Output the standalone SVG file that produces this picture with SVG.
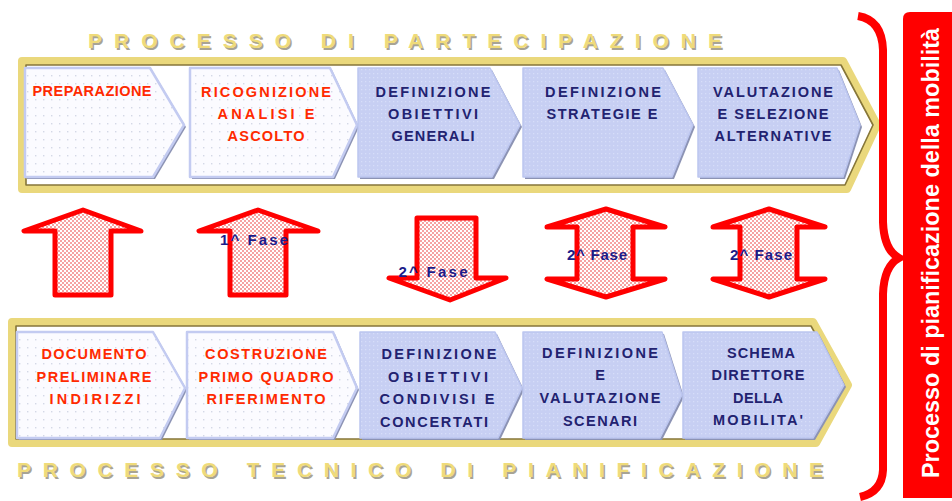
<svg xmlns="http://www.w3.org/2000/svg" width="952" height="501" viewBox="0 0 952 501">
<defs>
<pattern id="dots" width="8" height="8" patternUnits="userSpaceOnUse"><rect width="8" height="8" fill="#fbfbff"/><rect x="3" y="3" width="1.4" height="1.4" fill="#d4d8e6"/></pattern>
<pattern id="blue" width="4" height="4" patternUnits="userSpaceOnUse"><rect width="4" height="4" fill="#c7cff3"/><rect x="1" y="1" width="1.3" height="1.3" fill="#d6ddf9"/></pattern>
<pattern id="check" width="4" height="4" patternUnits="userSpaceOnUse"><rect width="4" height="4" fill="#ffffff"/><rect width="2" height="2" fill="#f6a2a2"/><rect x="2" y="2" width="2" height="2" fill="#f6a2a2"/></pattern>
<style>
.frame{fill:#ffffff;stroke:#ead87c;stroke-width:8;stroke-linejoin:round}
.frameIn{fill:none;stroke:#86763a;stroke-width:1.6;stroke-linejoin:round}
.wbox{fill:url(#dots);stroke:#c3cbf1;stroke-width:2.5;stroke-linejoin:round}
.bbox{fill:url(#blue);stroke:#bcc6f0;stroke-width:1.5;stroke-linejoin:round}
.shadow{fill:#8c93b4}
.title{font-family:"Liberation Sans",Arial,sans-serif;font-weight:bold;font-size:21px;fill:#efdb7a}
.tshadow{font-family:"Liberation Sans",Arial,sans-serif;font-weight:bold;font-size:21px;fill:#a8a494}
.red{font-family:"Liberation Sans",Arial,sans-serif;font-weight:bold;font-size:14.5px;fill:#ff2a00;text-anchor:middle}
.blu{font-family:"Liberation Sans",Arial,sans-serif;font-weight:bold;font-size:14.5px;fill:#222270;text-anchor:middle}
.arrow{fill:url(#check);stroke:#ff0000;stroke-width:5;stroke-linejoin:round}
.fase{font-family:"Liberation Sans",Arial,sans-serif;font-weight:bold;font-size:15px;fill:#1c1c8a;text-anchor:middle}
</style>
</defs>
<rect width="952" height="501" fill="#ffffff"/>

<g id="titles">
<text class="tshadow" x="89.5" y="49.5" textLength="634" lengthAdjust="spacing">PROCESSO DI PARTECIPAZIONE</text>
<text class="title" x="88" y="48" textLength="634" lengthAdjust="spacing">PROCESSO DI PARTECIPAZIONE</text>
<text class="tshadow" x="18.5" y="478.5" textLength="806" lengthAdjust="spacing">PROCESSO TECNICO DI PIANIFICAZIONE</text>
<text class="title" x="17" y="477" textLength="806" lengthAdjust="spacing">PROCESSO TECNICO DI PIANIFICAZIONE</text>
</g>

<g id="frame-top">
<polygon class="frame" points="22,61 843,61 877,125 847,189 22,189"/>
<polygon class="frameIn" points="26,65 841,65 873,125 845,185 26,185"/>
</g>
<g id="frame-bottom">
<polygon class="frame" points="12,322 813,322 848,385 816,443 12,443"/>
<polygon class="frameIn" points="16,326 811,326 844,385 814,439 16,439"/>
</g>

<g id="t1">
<polygon class="shadow" points="27,70 152,70 186,127 155,179 27,179"/>
<polygon class="wbox" points="25,68 150,68 184,125 153,177 25,177"/>
<text class="red" x="92" y="96" textLength="119">PREPARAZIONE</text>
</g>
<g id="t2">
<polygon class="shadow" points="192,70 332,70 359,127 335,179 192,179"/>
<polygon class="wbox" points="190,68 330,68 357,125 333,177 190,177"/>
<text class="red" x="266" y="97" textLength="130">RICOGNIZIONE</text>
<text class="red" x="266" y="119" textLength="97">ANALISI  E</text>
<text class="red" x="266" y="141" textLength="77">ASCOLTO</text>
</g>
<g id="t3">
<polygon class="shadow" points="360,70 492,70 522,127 494,179 360,179"/>
<polygon class="bbox" points="358,68 490,68 520,125 492,177 358,177"/>
<text class="blu" x="433" y="97" textLength="115">DEFINIZIONE</text>
<text class="blu" x="433" y="119" textLength="90">OBIETTIVI</text>
<text class="blu" x="433" y="141" textLength="83">GENERALI</text>
</g>
<g id="t4">
<polygon class="shadow" points="525,70 665,70 695,127 674,179 525,179"/>
<polygon class="bbox" points="523,68 663,68 693,125 672,177 523,177"/>
<text class="blu" x="603" y="97" textLength="116">DEFINIZIONE</text>
<text class="blu" x="602" y="119" textLength="111">STRATEGIE E</text>
</g>
<g id="t5">
<polygon class="shadow" points="700,70 839,70 862,127 845,179 700,179"/>
<polygon class="bbox" points="698,68 837,68 860,125 843,177 698,177"/>
<text class="blu" x="773" y="97" textLength="120">VALUTAZIONE</text>
<text class="blu" x="773" y="119" textLength="111">E SELEZIONE</text>
<text class="blu" x="773" y="141" textLength="117">ALTERNATIVE</text>
</g>

<g id="b1">
<polygon class="shadow" points="19,334 155,334 187,390 162,440 19,440"/>
<polygon class="wbox" points="17,332 153,332 185,388 160,438 17,438"/>
<text class="red" x="94" y="359" textLength="105">DOCUMENTO</text>
<text class="red" x="94" y="382" textLength="115">PRELIMINARE</text>
<text class="red" x="95" y="404" textLength="91">INDIRIZZI</text>
</g>
<g id="b2">
<polygon class="shadow" points="189,334 335,334 359,390 335,440 189,440"/>
<polygon class="wbox" points="187,332 333,332 357,388 333,438 187,438"/>
<text class="red" x="266" y="359" textLength="122">COSTRUZIONE</text>
<text class="red" x="266" y="382" textLength="135">PRIMO QUADRO</text>
<text class="red" x="266" y="404" textLength="119">RIFERIMENTO</text>
</g>
<g id="b3">
<polygon class="shadow" points="362,334 497,334 524,390 500,440 362,440"/>
<polygon class="bbox" points="360,332 495,332 522,388 498,438 360,438"/>
<text class="blu" x="439" y="359" textLength="115">DEFINIZIONE</text>
<text class="blu" x="438" y="382" textLength="100">OBIETTIVI</text>
<text class="blu" x="437" y="404" textLength="115">CONDIVISI E</text>
<text class="blu" x="434" y="427" textLength="108">CONCERTATI</text>
</g>
<g id="b4">
<polygon class="shadow" points="525,334 664,334 684,397 662,440 525,440"/>
<polygon class="bbox" points="523,332 662,332 682,395 660,438 523,438"/>
<text class="blu" x="600" y="358" textLength="116">DEFINIZIONE</text>
<text class="blu" x="600" y="380">E</text>
<text class="blu" x="600" y="403" textLength="121">VALUTAZIONE</text>
<text class="blu" x="600" y="426" textLength="74">SCENARI</text>
</g>
<g id="b5">
<polygon class="shadow" points="685,334 819,334 846,387 815,440 685,440"/>
<polygon class="bbox" points="683,332 817,332 844,385 813,438 683,438"/>
<text class="blu" x="761" y="358" textLength="68">SCHEMA</text>
<text class="blu" x="758" y="380" textLength="93">DIRETTORE</text>
<text class="blu" x="758" y="403" textLength="50">DELLA</text>
<text class="blu" x="758" y="425" textLength="90">MOBILITA'</text>
</g>

<g id="connectors">
<polygon class="arrow" points="83,210 24,231 55,231 55,295 111,295 111,231 141,231"/>
<polygon class="arrow" points="258,210 199,231 230,231 230,295 286,295 286,231 318,231"/>
<polygon class="arrow" points="417,218 476,218 476,278 506,278 450,300 389,278 417,278"/>
<polygon class="arrow" points="606,209 665,227 633,227 633,279 665,279 606,297 547,279 577,279 577,227 547,227"/>
<polygon class="arrow" points="769,209 825,227 797,227 797,279 825,279 769,297 713,279 740,279 740,227 713,227"/>
<text class="fase" x="254" y="245" textLength="68">1^ Fase</text>
<text class="fase" x="433" y="277" textLength="69">2^ Fase</text>
<text class="fase" x="597" y="260" textLength="60">2^ Fase</text>
<text class="fase" x="761" y="260" textLength="62">2^ Fase</text>
</g>

<g id="brace">
<path d="M858,16 Q882,20 883,50 L883,222 Q884,250 899,258 Q884,266 883,294 L883,470 Q882,492 860,497" fill="none" stroke="#ff0000" stroke-width="8"/>
</g>

<g id="side-label">
<path d="M910,12 L952,12 L952,498 L903,498 L903,19 Q903,12 910,12 Z" fill="#ff0000"/>
<text transform="translate(939,253) rotate(-90)" x="0" y="0" text-anchor="middle" textLength="450" lengthAdjust="spacingAndGlyphs" font-family="'Liberation Sans',Arial,sans-serif" font-weight="bold" font-size="24" fill="#ffffff">Processo di pianificazione della mobilità</text>
</g>
</svg>
